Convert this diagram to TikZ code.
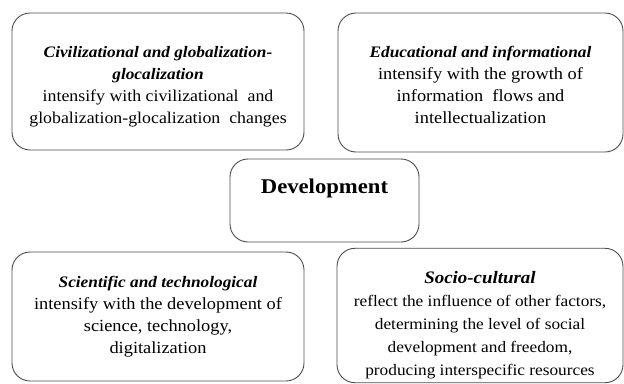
\documentclass[tikz,border=0pt]{standalone}
\usepackage{fontspec}
\setmainfont[FakeStretch=1.08]{Liberation Serif}
\newcommand{\topgap}[1]{\rule{0pt}{#1}}

\begin{document}
\begin{tikzpicture}[x=1pt,y=-1pt,
    factor/.style={draw=black!70, line width=0.9pt, rounded corners=18pt,
      align=center, inner sep=4pt, font=\fontsize{17}{22}\selectfont}]
    \useasboundingbox (0,0) rectangle (624,383);
    % upper pair
    \node[factor, minimum width=292pt, minimum height=137pt,
      font=\fontsize{16.5}{22}\selectfont] (civ) at (158,81.5)
      {\topgap{22pt}{\fontsize{16}{22}\selectfont\bfseries\itshape Civilizational and globalization-}\\
       {\fontsize{16}{22}\selectfont\bfseries\itshape glocalization}\\
       intensify with civilizational \ and\\
       globalization-glocalization \ changes};
    \node[factor, minimum width=285pt, minimum height=139pt] (edu) at (480.5,82.5)
      {\topgap{17pt}{\fontsize{16}{22}\selectfont\bfseries\itshape Educational and informational}\\
       intensify with the growth of\\
       information \ flows and\\
       intellectualization};
    % centre
    \node[factor, minimum width=189pt, inner sep=7pt, text height=27pt, text depth=42pt,
      font=\fontsize{21}{22}\selectfont\bfseries] (dev) at (324.5,200.5) {Development};
    % lower pair
    \node[factor, minimum width=292pt, minimum height=129pt] (sci) at (158,316.5)
      {{\fontsize{16}{22}\selectfont\bfseries\itshape Scientific and technological}\\
       intensify with the development of\\
       science, technology,\\
       digitalization};
    \node[factor, minimum width=286pt, minimum height=131pt,
      font=\fontsize{16}{23}\selectfont] (soc) at (480,315.5)
      {\topgap{31pt}{\fontsize{17.5}{23}\selectfont\bfseries\itshape Socio-cultural}\\
       reflect the influence of other factors,\\
       determining the level of social\\
       development and freedom,\\
       producing interspecific resources};
\end{tikzpicture}
\end{document}
